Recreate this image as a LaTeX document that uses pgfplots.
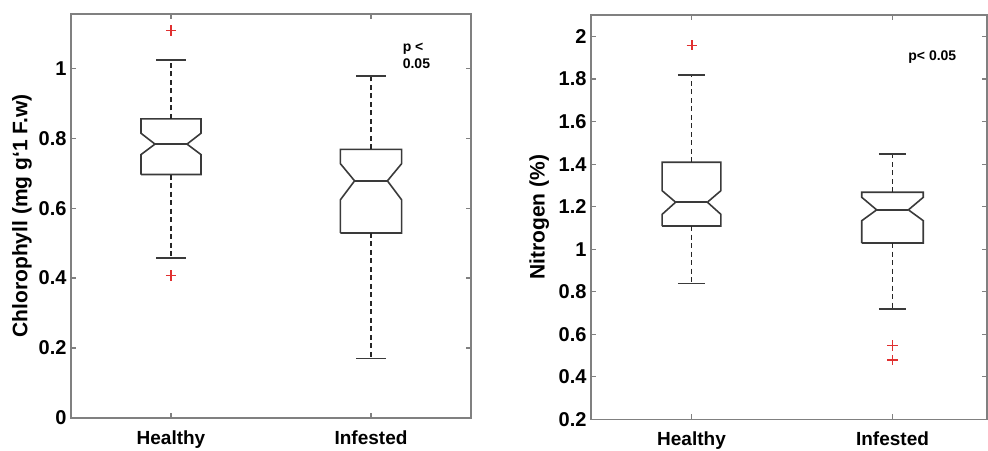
\documentclass[border=0pt]{standalone}
\usepackage{fontspec}
\setmainfont{Liberation Sans}
\usepackage{pgfplots}
\pgfplotsset{compat=1.18}
\definecolor{boxc}{HTML}{3A3A3A}
\definecolor{axc}{HTML}{808080}
\definecolor{outc}{HTML}{E03030}
\pgfplotsset{
  mybox/.style={
    scale only axis,
    xmin=0.5,
    xtick={1,2},
    xticklabels={Healthy,Infested},
    tick align=inside,
    xtick pos=both, ytick pos=both,
    major tick length=5pt,
    every tick/.style={axc, line width=1.2pt},
    axis line style={axc, line width=1.6pt},
    /pgf/number format/assume math mode=true,
    /pgf/number format/fixed,
    yticklabel style={font=\bfseries\fontsize{20}{20}\selectfont, text=black, xshift=-1pt},
    xticklabel style={font=\bfseries\fontsize{19}{19}\selectfont, text=black, yshift=-9pt},
    clip=false,
  },
  bx/.style={boxc, line width=1.6pt, line join=miter},
  wk/.style={black!85, line width=1.5pt, dash pattern=on 5pt off 3.5pt},
  cap/.style={boxc, line width=1.6pt},
  outl/.style={only marks, mark=+, mark size=5.2pt, color=outc, mark options={draw=outc, line width=1.35pt}},
}
\begin{document}
\begin{tikzpicture}
\useasboundingbox (0,0) rectangle (988pt,450pt);
% ---------------- Left panel: Chlorophyll
\begin{axis}[mybox,
  at={(71pt,32pt)}, anchor=south west,
  width=400pt, height=404pt,
  xmax=2.5, ymin=0, ymax=1.155,
  ytick={0,0.2,0.4,0.6,0.8,1},
  every axis y label/.style={at={(axis description cs:-0.1225,0.5)}, rotate=90, anchor=center, font=\bfseries\fontsize{21}{21}\selectfont},
  ylabel={Chlorophyll (mg g`1 F.w)},
]
% Healthy
\addplot[bx] coordinates {(0.85,0.696) (0.85,0.753) (0.92,0.783) (0.85,0.814) (0.85,0.855) (1.15,0.855) (1.15,0.814) (1.08,0.783) (1.15,0.753) (1.15,0.696) (0.85,0.696)};
\addplot[bx] coordinates {(0.92,0.783) (1.08,0.783)};
\addplot[wk] coordinates {(1,0.855) (1,1.024)};
\addplot[wk] coordinates {(1,0.696) (1,0.458)};
\addplot[cap] coordinates {(0.927,1.024) (1.073,1.024)};
\addplot[cap] coordinates {(0.927,0.458) (1.073,0.458)};
\addplot[outl] coordinates {(1,1.108) (1,0.407)};
% Infested
\addplot[bx] coordinates {(1.847,0.529) (1.847,0.624) (1.918,0.678) (1.847,0.727) (1.847,0.768) (2.153,0.768) (2.153,0.727) (2.082,0.678) (2.153,0.624) (2.153,0.529) (1.847,0.529)};
\addplot[bx] coordinates {(1.918,0.678) (2.082,0.678)};
\addplot[wk] coordinates {(2,0.768) (2,0.978)};
\addplot[wk] coordinates {(2,0.529) (2,0.170)};
\addplot[cap] coordinates {(1.927,0.978) (2.073,0.978)};
\addplot[cap] coordinates {(1.927,0.170) (2.073,0.170)};
\node[anchor=west, align=left, font=\bfseries\fontsize{14}{16.5}\selectfont, inner sep=0pt] at (axis cs:2.158,1.036) {p <\\0.05};
\end{axis}
% ---------------- Right panel: Nitrogen
\begin{axis}[mybox,
  at={(591pt,30.7pt)}, anchor=south west,
  width=396pt, height=404pt,
  xmax=2.47, ymin=0.2, ymax=2.1,
  ytick={0.2,0.4,0.6,0.8,1,1.2,1.4,1.6,1.8,2},
  every axis y label/.style={at={(axis description cs:-0.131,0.5)}, rotate=90, anchor=center, font=\bfseries\fontsize{21}{21}\selectfont},
  ylabel={Nitrogen (\%)},
]
% Healthy
\addplot[bx] coordinates {(0.854,1.109) (0.854,1.164) (0.921,1.221) (0.854,1.275) (0.854,1.409) (1.146,1.409) (1.146,1.275) (1.079,1.221) (1.146,1.164) (1.146,1.109) (0.854,1.109)};
\addplot[bx] coordinates {(0.921,1.221) (1.079,1.221)};
\addplot[wk] coordinates {(1,1.409) (1,1.818)};
\addplot[wk] coordinates {(1,1.109) (1,0.838)};
\addplot[cap] coordinates {(0.932,1.818) (1.068,1.818)};
\addplot[cap] coordinates {(0.932,0.838) (1.068,0.838)};
% Infested
\addplot[bx] coordinates {(1.847,1.029) (1.847,1.134) (1.921,1.185) (1.847,1.244) (1.847,1.268) (2.153,1.268) (2.153,1.244) (2.079,1.185) (2.153,1.134) (2.153,1.029) (1.847,1.029)};
\addplot[bx] coordinates {(1.921,1.185) (2.079,1.185)};
\addplot[wk] coordinates {(2,1.268) (2,1.448)};
\addplot[wk] coordinates {(2,1.029) (2,0.719)};
\addplot[cap] coordinates {(1.932,1.448) (2.068,1.448)};
\addplot[cap] coordinates {(1.932,0.719) (2.068,0.719)};
% outliers (Healthy and Infested)
\addplot[outl] coordinates {(1.002,1.959) (2,0.548) (2,0.479)};
\node[anchor=west, font=\bfseries\fontsize{14}{16}\selectfont, inner sep=0pt] at (axis cs:2.078,1.903) {p< 0.05};
\end{axis}
\end{tikzpicture}
\end{document}
